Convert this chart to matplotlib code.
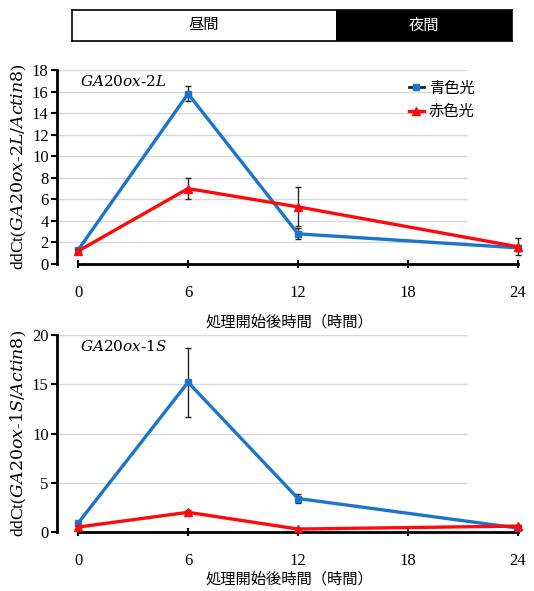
import matplotlib
matplotlib.use('Agg')
import matplotlib.pyplot as plt
from matplotlib.patches import Rectangle
from matplotlib.lines import Line2D

plt.rcParams['font.family'] = ['Liberation Serif', 'Noto Sans CJK JP']
plt.rcParams['mathtext.fontset'] = 'dejavuserif'

hours = [0, 6, 12, 24]
x_ticks = [0, 6, 12, 18, 24]

# GA20ox-2L
blue_2l = [1.3, 15.8, 2.8, 1.5]
blue_2l_err = [0.2, 0.7, 0.5, 0.3]
red_2l = [1.2, 7.0, 5.3, 1.6]
red_2l_err = [0.2, 1.0, 1.8, 0.8]

# GA20ox-1S
blue_1s = [0.9, 15.2, 3.4, 0.4]
blue_1s_err = [0.2, 3.5, 0.5, 0.1]
red_1s = [0.5, 2.0, 0.3, 0.6]
red_1s_err = [0.1, 0.2, 0.1, 0.1]

BLUE = '#1b75c8'
RED = '#ff0a0a'
W, H = 534, 591


def fig_rect(x0, y0, x1, y1):
    return [x0 / W, 1 - y1 / H, (x1 - x0) / W, (y1 - y0) / H]


def draw_panel(ax, blue, blue_err, red, red_err, ymax, step, gene):
    ax.set_xlim(-1.15, 24.22)
    ax.set_ylim(0, ymax)
    yt = list(range(0, ymax + 1, step))
    ax.hlines(yt[1:], -1.15, 21.2, color='#d8d8d8', lw=1.0, zorder=0)
    ax.errorbar(hours, blue, yerr=blue_err, color=BLUE, lw=2.4, marker='s', ms=5,
                ecolor='#222222', elinewidth=1, capsize=2, zorder=3)
    ax.errorbar(hours, red, yerr=red_err, color=RED, lw=2.4, marker='^', ms=6,
                ecolor='#222222', elinewidth=1, capsize=2, zorder=4)
    for s in ['top', 'right']:
        ax.spines[s].set_visible(False)
    ax.spines['bottom'].set_bounds(0, 24)
    ax.spines['bottom'].set_linewidth(2)
    ax.spines['left'].set_linewidth(2)
    ax.set_yticks(yt)
    ax.set_xticks(x_ticks)
    ax.tick_params(axis='y', direction='out', length=4, width=1.5, labelsize=12, pad=2)
    ax.tick_params(axis='x', direction='inout', length=6, width=1.5, labelsize=12, pad=12)
    g, s = gene.split('-')
    ax.set_ylabel(r'ddCt($\mathit{' + g + r'}$-$\mathit{' + s + r'/Actin8}$)',
                  fontsize=12.5, labelpad=2)
    ax.text(0.1, ymax * 0.94, r'$\mathit{' + g + r'}$-$\mathit{' + s + '}$',
            fontsize=11, va='center')


fig = plt.figure(figsize=(W / 100, H / 100), dpi=100)

# day / night bar
bar = fig.add_axes(fig_rect(72, 10, 512, 41))
bar.set_xlim(0, 24)
bar.set_ylim(0, 1)
bar.add_patch(Rectangle((0, 0), 14.4, 1, facecolor='white', edgecolor='none'))
bar.add_patch(Rectangle((14.4, 0), 9.6, 1, facecolor='black', edgecolor='none'))
bar.text(7.2, 0.5, '昼間', ha='center', va='center', fontsize=11)
bar.text(19.2, 0.5, '夜間', ha='center', va='center', fontsize=11, color='white')
bar.set_xticks([])
bar.set_yticks([])
for s in bar.spines.values():
    s.set_linewidth(1.2)

ax1 = fig.add_axes(fig_rect(57, 70, 522, 264))
draw_panel(ax1, blue_2l, blue_2l_err, red_2l, red_2l_err, 18, 2, 'GA20ox-2L')
ax1.set_xlabel('処理開始後時間（時間）', fontsize=11, labelpad=10)
handles = [Line2D([], [], color='#222222', lw=2, marker='s', ms=5, mfc=BLUE, mec=BLUE),
           Line2D([], [], color=RED, lw=2.4, marker='^', ms=6)]
ax1.legend(handles, ['青色光', '赤色光'], loc='upper left',
           bbox_to_anchor=(395 / W, 1 - 68 / H), bbox_transform=fig.transFigure,
           frameon=False, fontsize=11, handlelength=1.0, handletextpad=0.3, labelspacing=0.6)

ax2 = fig.add_axes(fig_rect(57, 335, 522, 532))
draw_panel(ax2, blue_1s, blue_1s_err, red_1s, red_1s_err, 20, 5, 'GA20ox-1S')
ax2.set_xlabel('処理開始後時間（時間）', fontsize=11, labelpad=2)

fig.savefig('out.png', dpi=100)
